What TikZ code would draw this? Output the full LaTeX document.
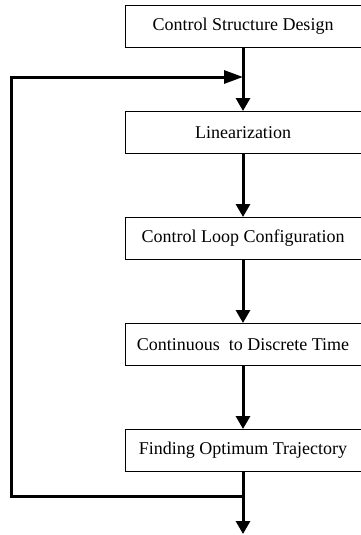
\documentclass[tikz,border=0pt]{standalone}
\usepackage{fontspec}
\setmainfont{Liberation Serif}
\usetikzlibrary{arrows.meta}
\begin{document}
\begin{tikzpicture}[x=1pt,y=-1pt,
  stage/.style={draw=black,line width=0.9pt,minimum width=236pt,minimum height=42pt,
    inner sep=0pt,font=\fontsize{18}{20}\selectfont,anchor=north},
  flow/.style={line width=3pt,-{Triangle[width=14pt,length=13pt]}},
  back/.style={line width=3pt,-{Triangle[width=13pt,length=19pt]}}]
\useasboundingbox (0,0) rectangle (360,535);
\node[stage] (s1) at (243,5)   {Control Structure Design};
\node[stage] (s2) at (243,111) {Linearization};
\node[stage] (s3) at (243,217) {Control Loop Configuration};
\node[stage] (s4) at (243,323) {Continuous\ \ to Discrete Time};
\node[stage] (s5) at (243,429) {Finding Optimum Trajectory};
\coordinate (join) at (243,77);
\coordinate (split) at (243,496);
\coordinate (out) at (243,534);
\draw[flow] (s1.south) -- (s2.north);
\draw[flow] (s2.south) -- (s3.north);
\draw[flow] (s3.south) -- (s4.north);
\draw[flow] (s4.south) -- (s5.north);
\draw[flow] (s5.south) -- (out);
\draw[back] (split) -- (11,496) -- (11,77) -- (join);
\end{tikzpicture}
\end{document}
